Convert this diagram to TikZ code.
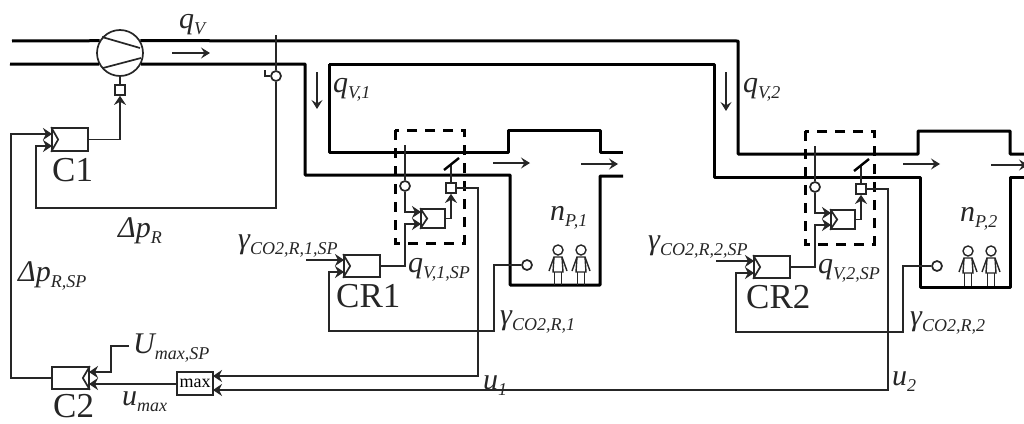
\documentclass[tikz,border=0pt]{standalone}
\usepackage{fontspec}
\setmainfont{Liberation Serif}
\usetikzlibrary{arrows.meta}
\definecolor{sg}{HTML}{262626}
\newcommand{\lab}[2]{{\fontsize{30}{30}\selectfont\itshape #1}\raisebox{-6pt}{\fontsize{18}{18}\selectfont\itshape #2}}
\newcommand{\personfig}[1]{%
  \draw[thinl,line width=1.4pt] (#1,250) circle[radius=5];
  \draw[thinl,line width=1.4pt] (#1-4,257) -- (#1+4,257) -- (#1+5,272) -- (#1-5,272) -- cycle;
  \draw[thinl,line width=1.4pt] (#1-4,257) -- (#1-9,271) (#1+4,257) -- (#1+9,271);
  \draw[thinl,line width=1.4pt] (#1-3.5,272) -- (#1-3.5,285) (#1+3.5,272) -- (#1+3.5,285);
}
\newcommand{\chevL}[1]{\draw[thinl] (#1.north west) -- ([xshift=7pt]#1.west) -- (#1.south west);}
\newcommand{\zone}[9]{%
  \begin{scope}[shift={(#1,#2)},name prefix=#3-]
    \draw[dashbox] (395,130) rectangle (464,243);
    \node[ctrl,minimum width=24pt,minimum height=19pt] (loc) at (433,218.5) {};
    \chevL{loc}
    \node[ctrl,minimum width=36pt,minimum height=22pt] (room) at (362,266) {};
    \chevL{room}
    \node[sens] (tsens) at (405,186) {};
    \node[sens] (co2) at (527,265) {};
    \node[act] (act) at (451,188) {};
    \coordinate (tap) at (405,145);
    \coordinate (li1) at (421,212);
    \coordinate (li2) at (421,224);
    \coordinate (ri1) at (344,260);
    \coordinate (ri2) at (344,272);
    \coordinate (sp) at (306,260);
    \coordinate (bend) at (#4,331);
    \coordinate (bladeA) at (444,170);
    \coordinate (bladeB) at (459,158);
    \coordinate (fa1) at (493,163);
    \coordinate (fa2) at (530,163);
    \coordinate (fb1) at (581,164);
    \coordinate (fb2) at (618,164);
    \draw[thinl] (tap) -- (tsens.north);
    \draw[sig] (tsens.south) |- (li1);
    \draw[sig] (room.east) -| (405,240) |- (li2);
    \draw[sig] (loc.east) -| (act.south);
    \draw[thinl] (act.north) -- (451,165);
    \draw[line width=2.4pt,black] (bladeA) -- (bladeB);
    \draw[sig] (sp) -- (ri1);
    \draw[sig] (co2.west) -| (#5,331) -- (bend) |- (ri2);
    \draw[flow] (fa1) -- (fa2);
    \draw[flow] (fb1) -- (fb2);
    \personfig{558}
    \personfig{581}
    \node[txt,anchor=west] (n) at (550,#6) {\lab{n}{P,#9}};
    \node[big,anchor=west] (name) at (336,296) {CR#9};
    \node[txt,anchor=west] (qsp) at (408,#7) {\lab{q}{V,#9,SP}};
    \node[txt,anchor=west] (gam) at (#8,322) {\lab{γ}{CO2,R,#9}};
    \node[txt,anchor=west] (gsp) at (238,246) {\lab{γ}{CO2,R,#9,SP}};
  \end{scope}
}
\begin{document}
\begin{tikzpicture}[x=1pt,y=-1pt,
  duct/.style={line width=3pt,black,line join=round},
  thinl/.style={line width=1.7pt,sg},
  sig/.style={thinl,-{Stealth[length=9pt,width=12pt,inset=3pt]}},
  flow/.style={line width=1.7pt,sg,-{Stealth[length=9pt,width=11pt,inset=3.5pt]}},
  dashbox/.style={line width=3pt,black,dash pattern=on 10pt off 8pt},
  ctrl/.style={draw=sg,line width=1.7pt,fill=white,inner sep=0pt,rectangle},
  sens/.style={draw=sg,line width=1.7pt,fill=white,circle,inner sep=0pt,minimum size=10pt},
  act/.style={draw=sg,line width=1.7pt,fill=white,rectangle,inner sep=0pt,minimum size=10pt},
  txt/.style={inner sep=0pt,text=sg},
  big/.style={inner sep=0pt,text=black!85,font=\fontsize{35}{35}\selectfont}]
\path[use as bounding box,clip] (0,0) rectangle (1024,423);
\fill[white] (0,0) rectangle (1024,423);
% compressor
\node[draw=sg,line width=1.7pt,fill=white,circle,inner sep=0pt,minimum size=46pt] (comp) at (120,53) {};
\coordinate (inT) at (12,41);
\coordinate (inB) at (10,64);
% ducts
\draw[duct] (inT) -- (comp.149);
\draw[duct] (inB) -- (comp.208);
\draw[duct] (comp.31) -- (738,41) -- (738,154) -- (918,154) -- (918,131) -- (1010,131) -- (1010,154) -- (1024,154);
\draw[duct] (comp.-28) -- (305,64) -- (305,175) -- (510,175) -- (510,285) -- (600,285) -- (600,176) -- (623,176);
\draw[duct] (329,64) -- (329,152) -- (508,152) -- (508,130) -- (600,130) -- (600,152) -- (623,152);
\draw[duct] (329,64) -- (714,64) -- (714,177) -- (920,177) -- (920,287) -- (1010,287) -- (1010,177) -- (1024,177);
\draw[thinl] (102,37) -- (140,48) (103,68) -- (141,58);
% flow arrows
\coordinate (qa) at (172,53); \coordinate (qb) at (210,53);
\coordinate (q1a) at (317,72); \coordinate (q1b) at (317,109);
\coordinate (q2a) at (726,72); \coordinate (q2b) at (726,111);
\draw[flow] (qa) -- (qb);
\draw[flow,line width=1.9pt] (q1a) -- (q1b);
\draw[flow,line width=1.9pt] (q2a) -- (q2b);
% C1
\node[ctrl,minimum width=36pt,minimum height=23pt] (c1) at (70,139.5) {};
\chevL{c1}
\node[act] (cact) at (120,90) {};
\node[sens] (psens) at (276,76) {};
\coordinate (ptap) at (276,35);
\coordinate (pbend) at (36,208);
\coordinate (c1i1) at (52,134);
\coordinate (c1i2) at (52,146);
\draw[thinl] (ptap) -- (psens.north);
\draw[thinl,line width=1.4pt] (265,70) |- (psens.west);
\draw[thinl] (comp.south) -- (cact.north);
\draw[sig] (c1.east) -| (cact.south);
\draw[sig] (psens.south) |- (pbend) |- (c1i2);
% C2 and max
\node[ctrl,minimum width=37pt,minimum height=22pt] (c2) at (70.5,378) {};
\draw[thinl] (c2.north east) -- ([xshift=-7pt]c2.east) -- (c2.south east);
\node[ctrl,minimum width=36pt,minimum height=23pt,font=\fontsize{18}{18}\selectfont] (mx) at (195,383.5) {max};
\coordinate (c2i1) at (89,372);
\coordinate (c2i2) at (89,384);
\coordinate (usp) at (129,346);
\coordinate (mxi1) at (213,376);
\coordinate (mxi2) at (213,390);
\draw[sig] (usp) -| (111,372) -- (c2i1);
\draw[sig] (mx.west |- c2i2) -- (c2i2);
\draw[sig] (c2.west) -| (11,134) -- (c1i1);
% zones
\zone{0}{0}{z1}{329}{494}{218}{270}{500}{1}
\zone{410}{1}{z2}{326}{493}{218}{270}{500}{2}
\draw[sig] (z1-act.east) -| (478,376) -- (mxi1);
\draw[sig] (z2-act.east) -| (888,390) -- (mxi2);
% labels
\node[txt,anchor=west] (lq) at (179,25) {\lab{q}{V}};
\node[txt,anchor=west] (lq1) at (333,90) {\lab{q}{V,1}};
\node[txt,anchor=west] (lq2) at (743,90) {\lab{q}{V,2}};
\node[big,anchor=west] (lc1) at (52,170) {C1};
\node[big,anchor=west] (lc2) at (53,406) {C2};
\node[txt,anchor=west] (ldp) at (118,231) {\lab{Δp}{R}};
\node[txt,anchor=west] (ldps) at (18,276) {\lab{Δp}{R,SP}};
\node[txt,anchor=west] (lu) at (133,348) {\lab{U}{max,SP}};
\node[txt,anchor=west] (lum) at (122,402) {\lab{u}{max}};
\node[txt,anchor=west] (lu1) at (483,386) {\lab{u}{1}};
\node[txt,anchor=west] (lu2) at (892,382) {\lab{u}{2}};
\end{tikzpicture}
\end{document}
